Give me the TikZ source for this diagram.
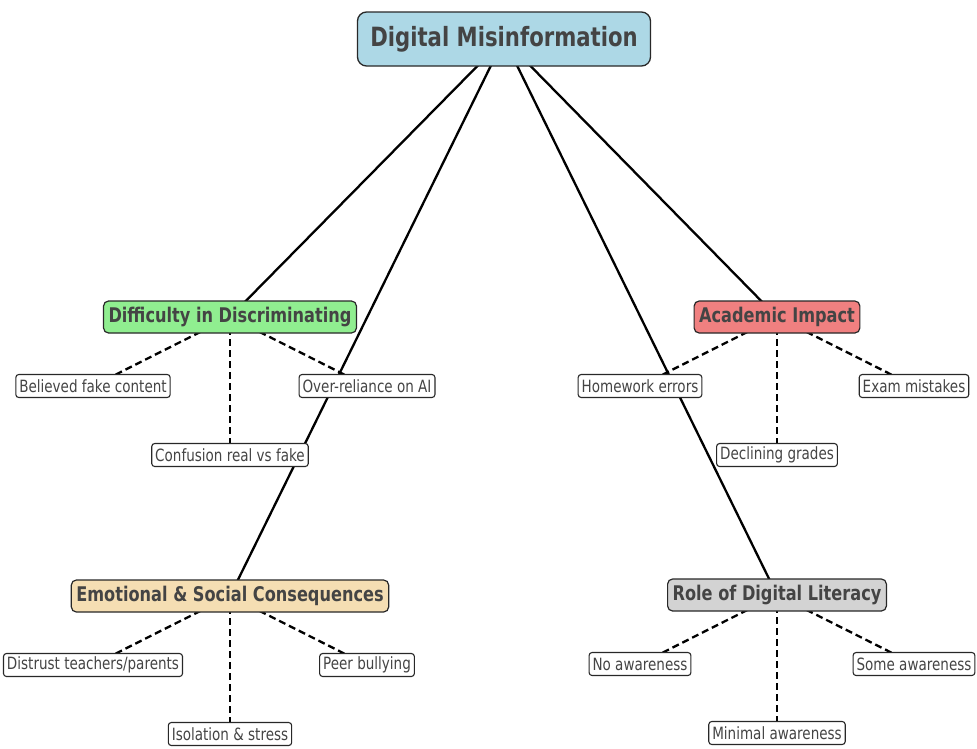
\documentclass[tikz,border=0pt]{standalone}
\usepackage{fontspec}
\setmainfont[FakeStretch=0.8]{DejaVu Sans}
\usetikzlibrary{positioning,backgrounds}
\definecolor{rootblue}{RGB}{173,216,230}
\definecolor{catgreen}{RGB}{144,238,144}
\definecolor{catred}{RGB}{240,128,128}
\definecolor{catwheat}{RGB}{245,222,179}
\definecolor{catgray}{RGB}{211,211,211}
\definecolor{textgray}{RGB}{68,68,68}
\definecolor{edgegray}{RGB}{40,40,40}
\tikzstyle{topic}=[draw=edgegray,line width=1.3pt,rounded corners=9pt,fill=rootblue,text=textgray,font=\fontsize{26.5}{30}\selectfont\bfseries,minimum width=293pt,minimum height=54pt,inner sep=0pt]
\tikzstyle{cat}=[draw=edgegray,line width=1.2pt,rounded corners=5pt,text=textgray,font=\fontsize{20.2}{24}\selectfont\bfseries,minimum height=32pt,inner xsep=5pt,inner ysep=0pt]
\tikzstyle{leaf}=[draw=edgegray,line width=1.1pt,rounded corners=3pt,fill=white,text=textgray,font=\fontsize{16.9}{20}\selectfont,minimum height=23pt,inner xsep=3.5pt,inner ysep=0pt]
\tikzstyle{link}=[draw=black,line width=2.3pt]
\tikzstyle{sublink}=[draw=black,line width=2.3pt,dash pattern=on 7pt off 4pt]

\begin{document}
\begin{tikzpicture}[x=1pt,y=-1pt]
    \useasboundingbox (0,0) rectangle (977,748);
    \def\sidex{137pt}
    \def\downy{69pt}

    \node[topic] (dm) at (504,39) {Digital Misinformation};

    % main themes
    \node[cat, fill=catgreen] (diff) at (230,317) {Difficulty in Discriminating};
    \node[cat, fill=catred] (acad) at (777,317) {Academic Impact};
    \node[cat, fill=catwheat] (emo) at (230,596) {Emotional \& Social Consequences};
    \node[cat, fill=catgray] (lit) at (777,595) {Role of Digital Literacy};

    % sub points
    \node[leaf, xshift=-\sidex, yshift=-\downy] (believed) at (diff) {Believed fake content};
    \node[leaf, xshift=\sidex, yshift=-\downy] (reliance) at (diff) {Over-reliance on AI};
    \node[leaf, yshift=-2*\downy] (confusion) at (diff) {Confusion real vs fake};

    \node[leaf, xshift=-\sidex, yshift=-\downy] (homework) at (acad) {Homework errors};
    \node[leaf, xshift=\sidex, yshift=-\downy] (exam) at (acad) {Exam mistakes};
    \node[leaf, yshift=-2*\downy] (grades) at (acad) {Declining grades};

    \node[leaf, xshift=-\sidex, yshift=-\downy] (distrust) at (emo) {Distrust teachers/parents};
    \node[leaf, xshift=\sidex, yshift=-\downy] (bullying) at (emo) {Peer bullying};
    \node[leaf, yshift=-2*\downy] (isolation) at (emo) {Isolation \& stress};

    \node[leaf, xshift=-\sidex, yshift=-\downy] (noaware) at (lit) {No awareness};
    \node[leaf, xshift=\sidex, yshift=-\downy] (someaware) at (lit) {Some awareness};
    \node[leaf, yshift=-2*\downy] (minaware) at (lit) {Minimal awareness};

    \begin{scope}[on background layer]
        \foreach \c in {diff,acad,emo,lit}
            \draw[link] (dm.center) -- (\c.center);
        \foreach \c/\a/\b/\m in {diff/believed/reliance/confusion,acad/homework/exam/grades,emo/distrust/bullying/isolation,lit/noaware/someaware/minaware}{
            \draw[sublink] (\c.center) -- (\a.center);
            \draw[sublink] (\c.center) -- (\b.center);
            \draw[sublink] (\c.center) -- (\m.center);
        }
    \end{scope}
\end{tikzpicture}
\end{document}
